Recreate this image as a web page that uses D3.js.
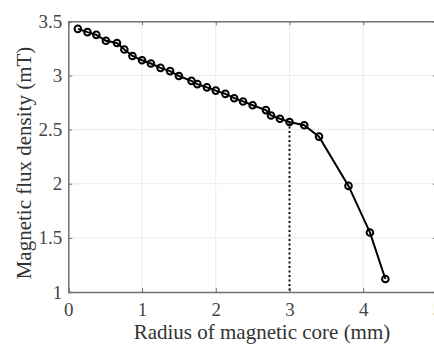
<!DOCTYPE html>
<html><head><meta charset="utf-8">
<script src="https://cdn.jsdelivr.net/npm/d3@7"></script>
<style>body{margin:0;background:#fff;}svg{display:block;}</style>
</head><body>
<svg id="c" width="434" height="348"></svg>
<script>
const radius = [0.13,0.26,0.38,0.51,0.66,0.76,0.87,1.0,1.12,1.25,1.38,1.5,1.67,1.75,1.88,2.0,2.13,2.25,2.37,2.5,2.68,2.75,2.87,3.0,3.2,3.4,3.8,4.09,4.3];
const flux   = [3.43,3.40,3.375,3.32,3.30,3.24,3.18,3.14,3.11,3.07,3.04,2.995,2.95,2.92,2.89,2.86,2.83,2.79,2.76,2.725,2.68,2.63,2.60,2.57,2.54,2.435,1.98,1.55,1.12];
const xTicks = [0,1,2,3,4,5];
const yTicks = [1,1.5,2,2.5,3,3.5];
const markerX = 3;
const markerY = 2.57;

const svg = d3.select("#c");
const L=68.3, R=437, T=21.3, B=292;
const x = d3.scaleLinear().domain([0,5]).range([L,R]);
const y = d3.scaleLinear().domain([1,3.5]).range([B,T]);
const font = "'Liberation Serif','Times New Roman',serif";
const axisCol = "#707070";

// grid
svg.append("g").selectAll("line").data(xTicks.slice(1,-1)).join("line")
  .attr("x1",d=>x(d)).attr("x2",d=>x(d)).attr("y1",T).attr("y2",B)
  .attr("stroke","#ebebeb").attr("stroke-width",1);
svg.append("g").selectAll("line").data(yTicks.slice(1,-1)).join("line")
  .attr("y1",d=>y(d)).attr("y2",d=>y(d)).attr("x1",L).attr("x2",R)
  .attr("stroke","#ebebeb").attr("stroke-width",1);

// axes (ticks inward)
const tk = 4;
const gb = svg.append("g").attr("transform",`translate(0,${B})`)
  .call(d3.axisBottom(x).tickValues(xTicks).tickSize(-tk).tickPadding(11).tickFormat(d3.format("d")));
const gt = svg.append("g").attr("transform",`translate(0,${T})`)
  .call(d3.axisTop(x).tickValues(xTicks).tickSize(-tk).tickFormat(""));
const gl = svg.append("g").attr("transform",`translate(${L},0)`)
  .call(d3.axisLeft(y).tickValues(yTicks).tickSize(-tk).tickPadding(6).tickFormat(d=>d3.format("")(d)));
const gr = svg.append("g").attr("transform",`translate(${R},0)`)
  .call(d3.axisRight(y).tickValues(yTicks).tickSize(-tk).tickFormat(""));
[gb,gt,gl,gr].forEach(g=>{
  g.selectAll(".domain").attr("stroke",axisCol).attr("stroke-width",1.5);
  g.selectAll(".tick line").attr("stroke",axisCol).attr("stroke-width",1);
  g.selectAll("text").attr("font-family",font).attr("font-size",19).attr("fill","#444");
});

// dotted marker
svg.append("line")
  .attr("x1",x(markerX)).attr("x2",x(markerX)).attr("y1",y(markerY)).attr("y2",y(1))
  .attr("stroke","#111").attr("stroke-width",2).attr("stroke-dasharray","2,2.5");

// line + markers
svg.append("path").datum(radius.map((r,i)=>[r,flux[i]]))
  .attr("d",d3.line().x(d=>x(d[0])).y(d=>y(d[1])))
  .attr("fill","none").attr("stroke","#000").attr("stroke-width",2);
svg.append("g").selectAll("circle").data(radius.map((r,i)=>[r,flux[i]])).join("circle")
  .attr("cx",d=>x(d[0])).attr("cy",d=>y(d[1])).attr("r",3.3)
  .attr("fill","none").attr("stroke","#000").attr("stroke-width",2);

// labels
svg.append("text").attr("x",262).attr("y",339).attr("text-anchor","middle")
  .attr("font-family",font).attr("font-size",21).attr("fill","#333")
  .text("Radius of magnetic core (mm)");
svg.append("text").attr("transform",`translate(31,163) rotate(-90)`).attr("text-anchor","middle")
  .attr("font-family",font).attr("font-size",21).attr("fill","#333")
  .text("Magnetic flux density (mT)");
</script>
</body></html>
